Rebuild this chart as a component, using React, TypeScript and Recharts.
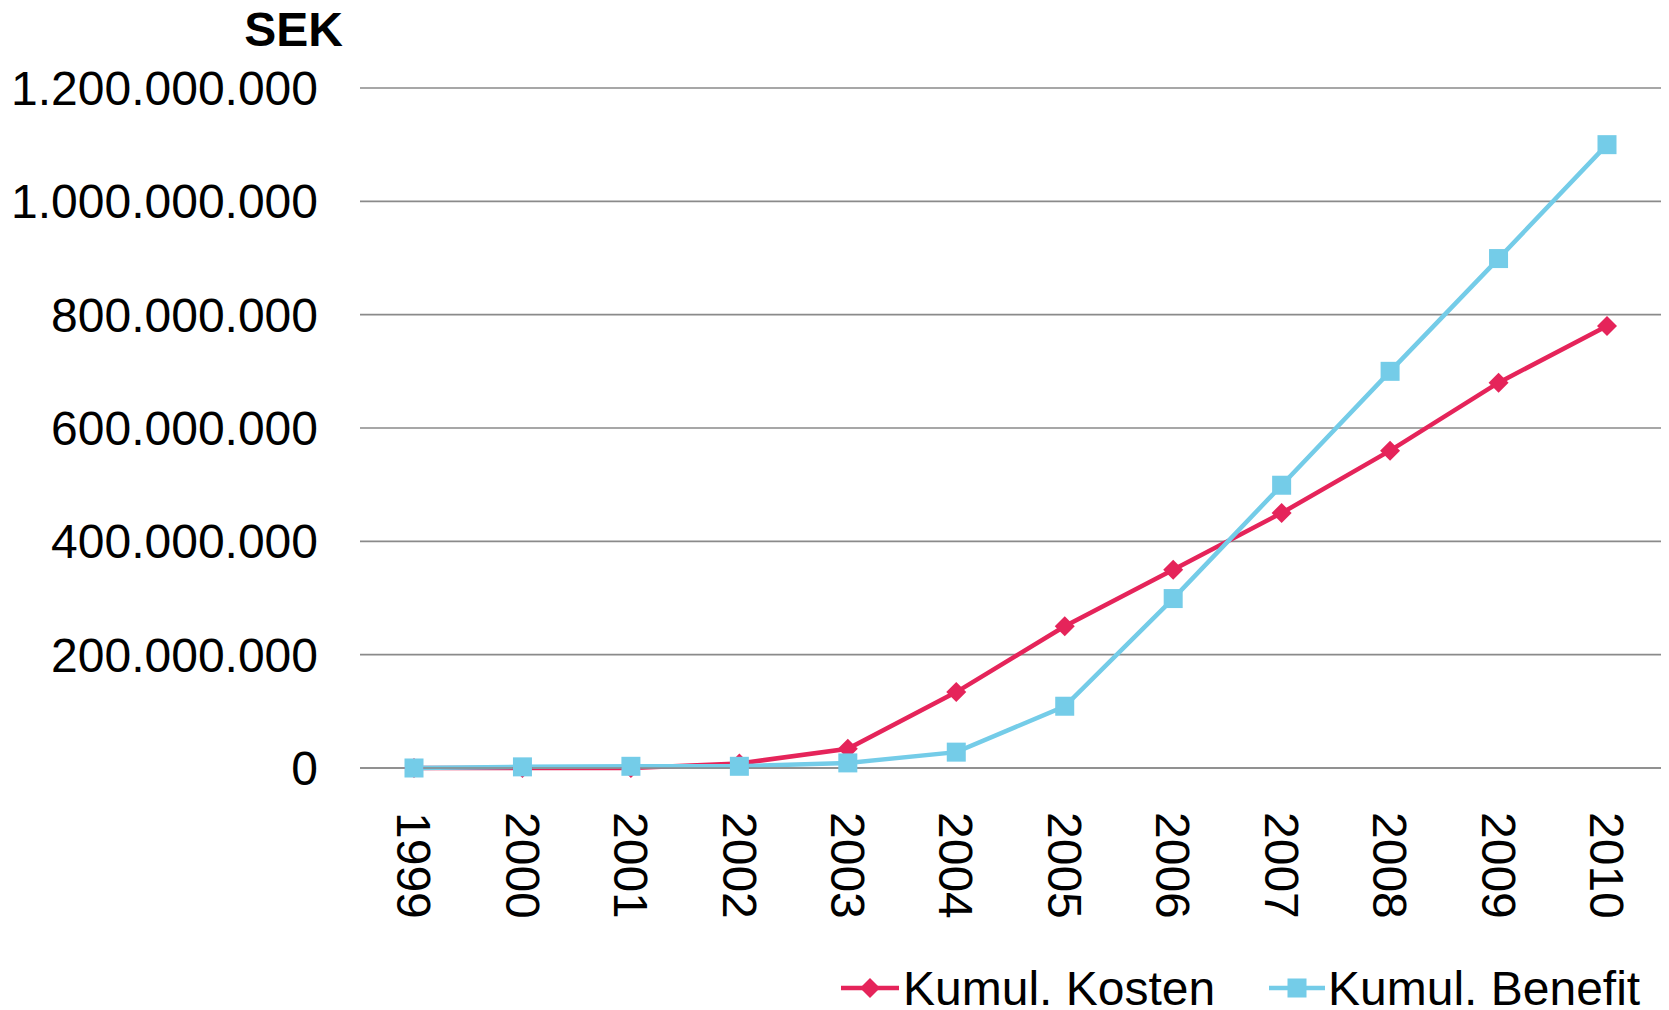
import React from "react";
import { LineChart, Line, XAxis, YAxis, CartesianGrid } from "recharts";

const years = ["1999", "2000", "2001", "2002", "2003", "2004", "2005", "2006", "2007", "2008", "2009", "2010"];
const kosten = [0, 0, 0, 8000000, 34000000, 134000000, 250000000, 350000000, 450000000, 560000000, 680000000, 780000000];
const benefit = [0, 2000000, 3000000, 3000000, 9000000, 28000000, 109000000, 299000000, 499000000, 700000000, 899000000, 1100000000];
const yTicks = [0, 200000000, 400000000, 600000000, 800000000, 1000000000, 1200000000];
const seriesNames = ["Kumul. Kosten", "Kumul. Benefit"];

const RED = "#E5245A";
const BLUE = "#74CCE8";
const FONT = "'Liberation Sans', Arial, sans-serif";
const FS = 48;

const data = years.map((y, i) => ({ year: y, kosten: kosten[i], benefit: benefit[i] }));

const fmt = (v: number) => String(Math.round(v)).replace(/\B(?=(\d{3})+(?!\d))/g, ".");

const Diamond = (props: any) => {
  const { cx, cy } = props;
  if (cx == null || cy == null) return null;
  const r = 10;
  return <path d={`M${cx},${cy - r}L${cx + r},${cy}L${cx},${cy + r}L${cx - r},${cy}Z`} fill={RED} />;
};

const Square = (props: any) => {
  const { cx, cy } = props;
  if (cx == null || cy == null) return null;
  const s = 19;
  return <rect x={cx - s / 2} y={cy - s / 2} width={s} height={s} fill={BLUE} />;
};

const XTick = (props: any) => {
  const { x, y, payload } = props;
  const ty = y + 44;
  return (
    <text
      x={x}
      y={ty}
      dy="0.35em"
      transform={`rotate(90, ${x}, ${ty})`}
      textAnchor="start"
      fill="#000"
      fontSize={FS}
      fontFamily={FONT}
    >
      {payload.value}
    </text>
  );
};

export default function App() {
  return (
    <div style={{ position: "absolute", left: 0, top: 0, width: 1669, height: 1010, background: "#fff", overflow: "hidden" }}>
      <LineChart width={1669} height={1010} data={data} margin={{ top: 88, right: 8, bottom: 0, left: 0 }}>
        <CartesianGrid vertical={false} stroke="#8a8a8a" strokeWidth={1.6} />
        <XAxis
          dataKey="year"
          height={242}
          padding={{ left: 54, right: 54 }}
          tickLine={false}
          axisLine={{ stroke: "#8a8a8a", strokeWidth: 1.6 }}
          tickSize={0}
          tickMargin={0}
          interval={0}
          tick={<XTick />}
        />
        <YAxis
          width={360}
          domain={[0, 1200000000]}
          ticks={yTicks}
          tickFormatter={fmt}
          axisLine={false}
          tickLine={false}
          tickSize={0}
          tickMargin={42}
          tick={{ fill: "#000", fontSize: FS, fontFamily: FONT }}
        />
        <Line
          type="linear"
          dataKey="kosten"
          name={seriesNames[0]}
          stroke={RED}
          strokeWidth={4.5}
          dot={<Diamond />}
          activeDot={false}
          isAnimationActive={false}
        />
        <Line
          type="linear"
          dataKey="benefit"
          name={seriesNames[1]}
          stroke={BLUE}
          strokeWidth={4.5}
          dot={<Square />}
          activeDot={false}
          isAnimationActive={false}
        />
      </LineChart>
      <div
        style={{
          position: "absolute",
          right: 1669 - 343,
          top: 3,
          fontFamily: FONT,
          fontWeight: "bold",
          fontSize: FS,
          lineHeight: "54px",
          color: "#000",
        }}
      >
        SEK
      </div>
      <svg style={{ position: "absolute", left: 0, top: 940 }} width={1669} height={70}>
        <line x1={841} y1={48} x2={899} y2={48} stroke={RED} strokeWidth={4.5} />
        <path d="M870,38L880,48L870,58L860,48Z" fill={RED} />
        <text x={903} y={65} fontSize={FS} fontFamily={FONT} fill="#000">
          {seriesNames[0]}
        </text>
        <line x1={1269} y1={48} x2={1325} y2={48} stroke={BLUE} strokeWidth={4.5} />
        <rect x={1287.5} y={38.5} width={19} height={19} fill={BLUE} />
        <text x={1328} y={65} fontSize={FS} fontFamily={FONT} fill="#000">
          {seriesNames[1]}
        </text>
      </svg>
    </div>
  );
}
